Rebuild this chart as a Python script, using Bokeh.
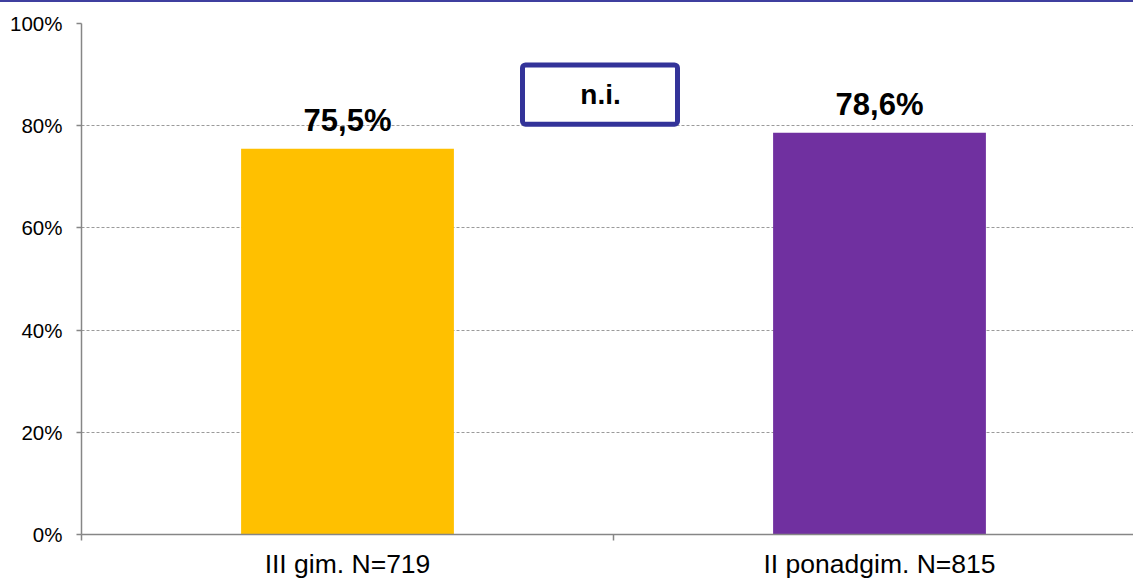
from bokeh.plotting import figure
from bokeh.models import Range1d, FixedTicker, ColumnDataSource, BoxAnnotation, Label, Div
from bokeh.layouts import column
from bokeh.core.properties import value
from bokeh.embed import file_html
from bokeh.resources import INLINE

# ---- data ----
categories = ["III gim. N=719", "II ponadgim. N=815"]
values = [75.5, 78.6]
bar_colors = ["#FFC000", "#7030A0"]
y_ticks = [0, 20, 40, 60, 80, 100]
y_tick_labels = ["0%", "20%", "40%", "60%", "80%", "100%"]
note_text = "n.i."

FONT = "Liberation Sans"
FW, FH = 1052, 511
CAT_PX = 532.0
RULE_H = 2

x_pos = [i + 0.5 for i in range(len(categories))]
labels = [("%.1f" % v).replace(".", ",") + "%" for v in values]
src = ColumnDataSource(dict(x=x_pos, top=values, color=bar_colors, label=labels))

p = figure(frame_width=FW, frame_height=FH,
           x_range=Range1d(0, FW / CAT_PX), y_range=Range1d(0, 100),
           output_backend="svg", toolbar_location=None,
           min_border_left=81, min_border_top=23 - RULE_H, min_border_right=0,
           min_border_bottom=10, margin=0)
p.outline_line_color = None
p.background_fill_color = "white"
p.border_fill_color = "white"

p.vbar(x="x", top="top", width=0.4, bottom=0, color="color", line_color=None, source=src)

p.text(x="x", y="top", text="label", source=src, text_align="center",
       text_baseline="alphabetic", y_offset=-28,
       text_font=value(FONT), text_font_style="bold", text_font_size="31px",
       text_color="black")

# n.i. box
box = BoxAnnotation(left=(522 - 81) / CAT_PX, right=(677 - 81) / CAT_PX,
                    bottom=80.3, top=91.9,
                    fill_color="white", fill_alpha=1.0,
                    line_color="#333399", line_alpha=1.0, line_width=5,
                    border_radius=3, level="overlay")
p.add_layout(box)
p.add_layout(Label(x=(600 - 81) / CAT_PX, y=86.1, text=note_text, text_align="center",
                   text_baseline="middle", text_font=FONT, text_font_style="bold",
                   text_font_size="28px", text_color="black", level="overlay"))

# y axis
p.yaxis.ticker = FixedTicker(ticks=y_ticks)
p.yaxis.major_label_overrides = {t: l for t, l in zip(y_ticks, y_tick_labels)}
p.yaxis.axis_line_color = "#868686"
p.yaxis.axis_line_width = 1.5
p.yaxis.major_tick_line_color = "#868686"
p.yaxis.major_tick_line_width = 1.5
p.yaxis.major_tick_out = 5
p.yaxis.major_tick_in = 0
p.yaxis.minor_tick_line_color = None
p.yaxis.major_label_standoff = 14
p.yaxis.major_label_text_font = FONT
p.yaxis.major_label_text_font_size = "20.5px"
p.yaxis.major_label_text_color = "black"

# x axis
p.xaxis.ticker = FixedTicker(ticks=x_pos, minor_ticks=[0, 1, 2])
p.xaxis.major_label_overrides = {x: c for x, c in zip(x_pos, categories)}
p.xaxis.axis_line_color = "#868686"
p.xaxis.axis_line_width = 1.5
p.xaxis.major_tick_line_color = None
p.xaxis.major_tick_out = 0
p.xaxis.major_tick_in = 0
p.xaxis.minor_tick_line_color = "#868686"
p.xaxis.minor_tick_line_width = 1.5
p.xaxis.minor_tick_out = 6
p.xaxis.minor_tick_in = 0
p.xaxis.major_label_standoff = 8
p.xaxis.major_label_text_font = FONT
p.xaxis.major_label_text_font_size = "26.5px"
p.xaxis.major_label_text_color = "black"

# grid
p.xgrid.grid_line_color = None
p.ygrid.ticker = FixedTicker(ticks=y_ticks[1:])
p.ygrid.grid_line_color = "#9a9a9a"
p.ygrid.grid_line_dash = "3 2"
p.ygrid.grid_line_width = 1

# thin blue rule along the top edge of the picture
rule = Div(text="", width=FW + 81, height=RULE_H, margin=0,
           styles={"background-color": "#3f3f9f"})

layout = column(rule, p, spacing=0, margin=0)
open("out.html", "w").write(file_html(layout, INLINE))
